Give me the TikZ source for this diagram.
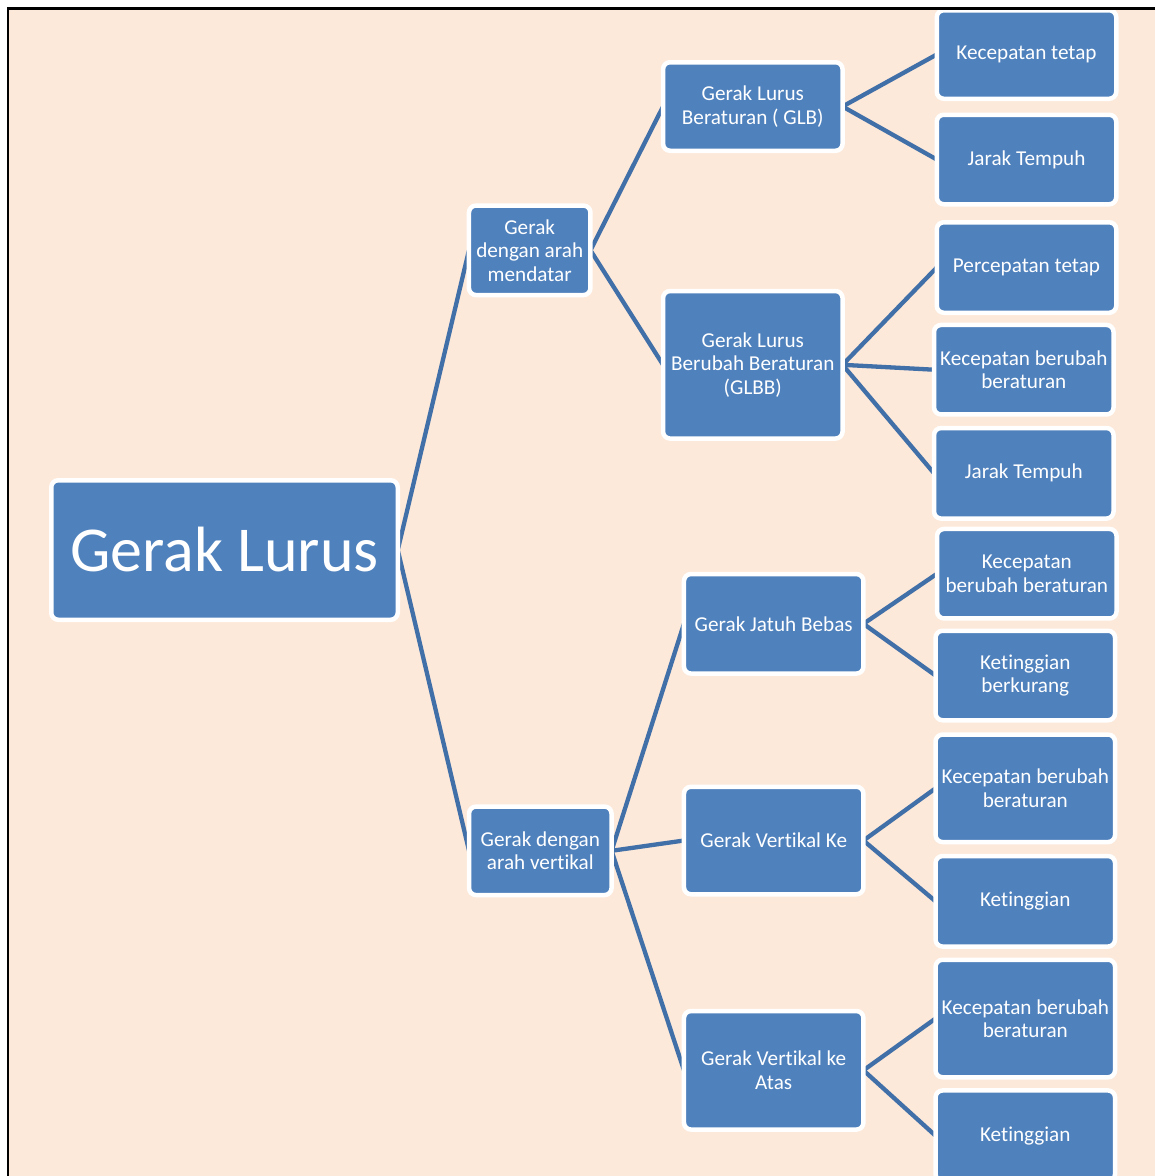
\documentclass[tikz,border=0pt]{standalone}
\usepackage{fontspec}
\setmainfont[RawFeature={-liga;-clig;-calt;-dlig}]{Carlito}
\pgfdeclarelayer{bg}
\pgfdeclarelayer{edges}
\pgfdeclarelayer{front}
\pgfsetlayers{bg,edges,main,front}
\definecolor{peach}{HTML}{FDE9D9}
\definecolor{boxblue}{HTML}{4F81BD}
\definecolor{linkblue}{HTML}{416FA8}
\begin{document}
\begin{tikzpicture}[x=1pt,y=-1pt,
  box/.style={rectangle, rounded corners=7pt, fill=boxblue, draw=white, line width=4.5pt,
    text=white, align=center, inner sep=0pt, outer sep=0pt,
    font=\fontsize{21.2}{23.5}\selectfont},
  leaf/.style={box, minimum width=179.5pt},
  mid/.style={box, minimum width=179.5pt},
  link/.style={draw=linkblue, line width=4.3pt}]
\useasboundingbox (0,0) rectangle (1155,1176);
\begin{pgfonlayer}{bg}
  \fill[white] (0,0) rectangle (1155,1176);
  \fill[peach] (8,8.7) rectangle (1155,1176);
\end{pgfonlayer}

% root and first level
\node[box, minimum width=346.5pt, minimum height=139.5pt, font=\fontsize{64}{70}\selectfont] (root) at (224.5,550) {Gerak Lurus};
\node[box, minimum width=121.5pt, minimum height=89.5pt] (mend) at (529.7,250.3) {Gerak\\dengan arah\\mendatar};
\node[box, minimum width=142.5pt, minimum height=88.5pt] (vert) at (540.3,850.8) {Gerak dengan\\arah vertikal};

% second level
\node[mid, minimum height=88.5pt] (glb) at (752.8,106.5) {Gerak Lurus\\Beraturan ( GLB)};
\node[mid, minimum height=147.5pt] (glbb) at (752.8,364.8) {Gerak Lurus\\Berubah Beraturan\\(GLBB)};
\node[mid, minimum height=99.5pt] (jatuh) at (773.7,623.8) {Gerak Jatuh Bebas};
\node[mid, minimum height=107.5pt] (vke) at (773.7,840.5) {Gerak Vertikal Ke};
\node[mid, minimum height=118.5pt] (atas) at (773.7,1070.3) {Gerak Vertikal ke\\Atas};

% leaves
\node[leaf, minimum height=88.5pt] (l1) at (1026.5,54.5) {Kecepatan tetap};
\node[leaf, minimum height=89.5pt] (l2) at (1026.5,159.5) {Jarak Tempuh};
\node[leaf, minimum height=90.5pt] (l3) at (1026.5,267.5) {Percepatan tetap};
\node[leaf, minimum height=89.5pt] (l4) at (1023.8,369.7) {Kecepatan berubah\\beraturan};
\node[leaf, minimum height=90.5pt] (l5) at (1023.8,473.3) {Jarak Tempuh};
\node[leaf, minimum height=89.5pt] (l6) at (1026.8,573.7) {Kecepatan\\berubah beraturan};
\node[leaf, minimum height=89.5pt] (l7) at (1025.3,675.5) {Ketinggian\\berkurang};
\node[leaf, minimum height=107.5pt] (l8) at (1025.3,788.3) {Kecepatan berubah\\beraturan};
\node[leaf, minimum height=90.5pt] (l9) at (1025.3,901.3) {Ketinggian};
\node[leaf, minimum height=117.5pt] (l10) at (1025.3,1018.5) {Kecepatan berubah\\beraturan};
\node[leaf, minimum height=90.5pt] (l11) at (1025.3,1135.7) {Ketinggian};

\begin{pgfonlayer}{edges}
  \draw[link] (root.east) -- (mend.west);
  \draw[link] (root.east) -- (vert.west);
  \draw[link] (mend.east) -- (glb.west);
  \draw[link] (mend.east) -- (glbb.west);
  \draw[link] (glb.east) -- (l1.west);
  \draw[link] (glb.east) -- (l2.west);
  \draw[link] (glbb.east) -- (l3.west);
  \draw[link] (glbb.east) -- (l4.west);
  \draw[link] (glbb.east) -- (l5.west);
  \draw[link] (vert.east) -- (jatuh.west);
  \draw[link] (vert.east) -- (vke.west);
  \draw[link] (vert.east) -- (atas.west);
  \draw[link] (jatuh.east) -- (l6.west);
  \draw[link] (jatuh.east) -- (l7.west);
  \draw[link] (vke.east) -- (l8.west);
  \draw[link] (vke.east) -- (l9.west);
  \draw[link] (atas.east) -- (l10.west);
  \draw[link] (atas.east) -- (l11.west);
\end{pgfonlayer}

\begin{pgfonlayer}{front}
  \draw[black, line width=2.7pt] (8,1176) -- (8,8.7) -- (1155,8.7);
\end{pgfonlayer}
\end{tikzpicture}
\end{document}
